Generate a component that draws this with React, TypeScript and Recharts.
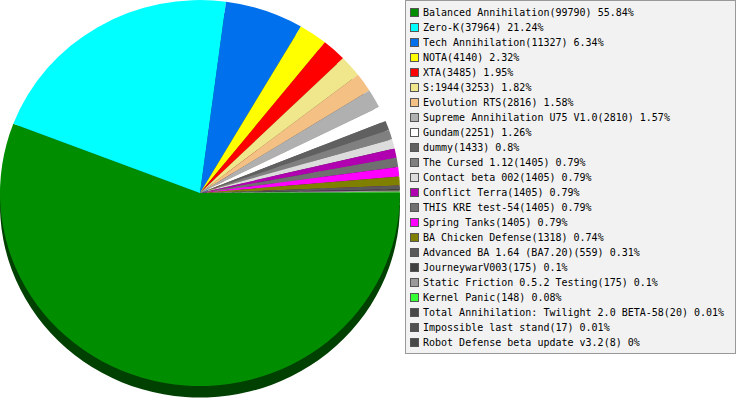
import { PieChart, Pie, Cell, Legend } from "recharts";

const mods = [
  "Balanced Annihilation",
  "Zero-K",
  "Tech Annihilation",
  "NOTA",
  "XTA",
  "S:1944",
  "Evolution RTS",
  "Supreme Annihilation U75 V1.0",
  "Gundam",
  "dummy",
  "The Cursed 1.12",
  "Contact beta 002",
  "Conflict Terra",
  "THIS KRE test-54",
  "Spring Tanks",
  "BA Chicken Defense",
  "Advanced BA 1.64 (BA7.20)",
  "JourneywarV003",
  "Static Friction 0.5.2 Testing",
  "Kernel Panic",
  "Total Annihilation: Twilight 2.0 BETA-58",
  "Impossible last stand",
  "Robot Defense beta update v3.2",
];

const games = [
  99790, 37964, 11327, 4140, 3485, 3253, 2816, 2810, 2251, 1433, 1405, 1405,
  1405, 1405, 1405, 1318, 559, 175, 175, 148, 20, 17, 8,
];

const MOD_COLORS = [
  "#008e00",
  "#00ffff",
  "#0070ec",
  "#ffff00",
  "#ff0000",
  "#f0e68c",
  "#f4c084",
  "#b0b0b0",
  "#ffffff",
  "#606060",
  "#808080",
  "#dcdcdc",
  "#b000b0",
  "#707070",
  "#ff00ff",
  "#808000",
  "#595959",
  "#404040",
  "#999999",
  "#33ff33",
  "#484848",
  "#505050",
  "#484848",
];

const total = games.reduce((a, b) => a + b, 0);
const chartData = mods.map((name, i) => ({ name, value: games[i] }));

function darken(hex: string): string {
  const n = parseInt(hex.slice(1), 16);
  const f = (v: number) => Math.round(v * 0.45).toString(16).padStart(2, "0");
  return "#" + f((n >> 16) & 255) + f((n >> 8) & 255) + f(n & 255);
}

function pct(v: number): string {
  return String(parseFloat(((v / total) * 100).toFixed(2)));
}

function ModLegend() {
  return (
    <div
      style={{
        boxSizing: "border-box",
        width: 331,
        height: 354,
        background: "#f2f2f2",
        border: "1px solid #999",
        padding: "4px 0 0 4px",
        fontFamily: "'DejaVu Sans Mono', monospace",
        fontSize: 10,
        color: "#000",
      }}
    >
      {mods.map((name, i) => (
        <div
          key={name}
          style={{ height: 15, lineHeight: "15px", whiteSpace: "nowrap", display: "flex", alignItems: "center" }}
        >
          <span
            style={{
              display: "inline-block",
              width: 7,
              height: 7,
              border: "1px solid #555",
              background: MOD_COLORS[i],
              marginRight: 4,
              flexShrink: 0,
            }}
          />
          <span>
            {name}({games[i]}) {pct(games[i])}%
          </span>
        </div>
      ))}
    </div>
  );
}

export default function App() {
  return (
    <div style={{ position: "absolute", left: 0, top: 0, width: 737, height: 400, background: "#fff" }}>
      <style>{`.recharts-pie { transform: scaleY(0.965); transform-origin: 200px 0px; }`}</style>
      <PieChart width={737} height={400} margin={{ top: 0, right: 0, bottom: 0, left: 0 }}>
        <Pie
          data={chartData}
          dataKey="value"
          nameKey="name"
          cx={200}
          cy={212}
          outerRadius={200}
          startAngle={0}
          endAngle={-360}
          stroke="none"
          isAnimationActive={false}
        >
          {chartData.map((d, i) => (
            <Cell key={d.name} fill={darken(MOD_COLORS[i])} />
          ))}
        </Pie>
        <Pie
          data={chartData}
          dataKey="value"
          nameKey="name"
          cx={200}
          cy={200}
          outerRadius={200}
          startAngle={0}
          endAngle={-360}
          stroke="none"
          isAnimationActive={false}
        >
          {chartData.map((d, i) => (
            <Cell key={d.name} fill={MOD_COLORS[i]} />
          ))}
        </Pie>
        <Legend
          content={() => <ModLegend />}
          wrapperStyle={{ left: 405, top: 0, width: 331, height: 354 }}
        />
      </PieChart>
    </div>
  );
}
